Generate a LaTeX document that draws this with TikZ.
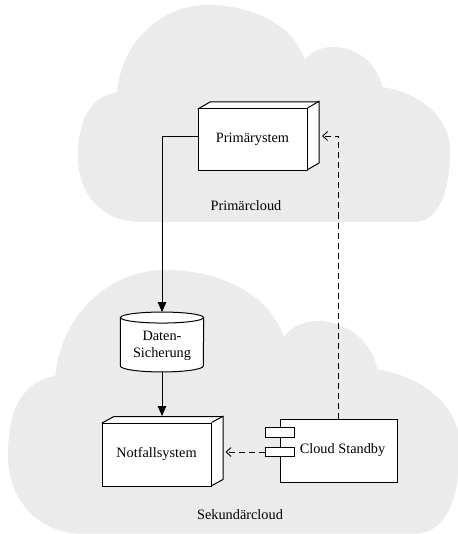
\documentclass[tikz,border=0pt]{standalone}
\usepackage{fontspec}
\setmainfont{Liberation Serif}
\usetikzlibrary{calc,arrows.meta}
\definecolor{cloudgray}{RGB}{235,235,235}
\newcommand{\cloudshape}{%
  (62,217) .. controls (25,217) and (0,190) .. (0,152)
  .. controls (0,115) and (12,92) .. (39,87)
  .. controls (44,35) and (85,0) .. (129,0)
  .. controls (175,0) and (215,20) .. (227,55)
  .. controls (235,45) and (245,42) .. (255,42)
  .. controls (280,42) and (300,60) .. (304,82)
  .. controls (345,88) and (372,115) .. (372,145)
  .. controls (372,185) and (362,217) .. (335,217)
  -- cycle}
\begin{document}
\begin{tikzpicture}[x=1pt,y=-1pt,
  font=\fontsize{14.3}{16.5}\selectfont,
  cloud/.style={fill=cloudgray,draw=none},
  frontbox/.style={draw,fill=white,line width=1pt,minimum width=109pt,minimum height=62pt,inner sep=0pt},
  depth/.style={draw,fill=white,line width=1pt,line join=round},
  comp/.style={draw,fill=white,line width=1pt,minimum width=117pt,minimum height=63pt,inner sep=0pt},
  port/.style={draw,fill=white,line width=1pt,minimum width=29pt,minimum height=9.5pt,inner sep=0pt},
  flow/.style={line width=0.9pt,-{Triangle[length=10pt,width=8.5pt]}},
  dep/.style={line width=0.9pt,dash pattern=on 6pt off 4pt,-{Straight Barb[length=5pt,width=9pt]}},
  lbl/.style={inner sep=0pt}]
\useasboundingbox (0,0) rectangle (457,534);
% clouds
\begin{scope}[shift={(78,5)}]
  \path[cloud] \cloudshape;
\end{scope}
\begin{scope}[shift={(8,270)},scale=1.215]
  \path[cloud] \cloudshape;
\end{scope}
\node[lbl] (lp) at (246,206) {Primärcloud};
\node[lbl] (ls) at (240,515) {Sekundärcloud};
% Primaerystem
\draw[depth] (198,109) -- ++(12,-7) -- ++(109,0) -- ++(0,61) -- ++(-12,7) -- cycle;
\node[frontbox] (P) at (252.5,139.5) {Primärystem};
\draw[line width=1pt] (P.north east) -- ++(12,-7);
\coordinate (Pw) at ($(P.west)+(0,-3.5)$);
\coordinate (Pbe) at ($(P.east)+(12,-3.5)$);
% Notfallsystem
\draw[depth] (102,423) -- ++(12,-6.5) -- ++(109,0) -- ++(0,63) -- ++(-12,6.5) -- cycle;
\node[frontbox,minimum height=63pt] (N) at (156.5,454.5) {Notfallsystem};
\draw[line width=1pt] (N.north east) -- ++(12,-6.5);
\coordinate (Ntop) at ($(N.north)+(6,-6.5)$);
\coordinate (Nbe) at ($(N.east)+(12,-3.25)$);
% Daten-Sicherung (cylinder)
\node[minimum width=83pt,minimum height=59.5pt,inner sep=0pt] (D) at (162,342) {};
\draw[line width=1pt,fill=white] ($(D.north west)+(0,5.5)$) -- ($(D.south west)+(0,-6)$)
   arc[start angle=180,end angle=0,x radius=41.5,y radius=6] -- ($(D.north east)+(0,5.5)$) -- cycle;
\draw[line width=1pt,fill=white] ($(D.north)+(0,5.5)$) ellipse[x radius=41.5,y radius=5.5];
\node[lbl,align=center] (Dt) at ($(D.center)+(0,4)$) {Daten-\\Sicherung};
% Cloud Standby component
\node[comp,label={[xshift=4pt]center:Cloud Standby}] (C) at (338.5,450.5) {};
\node[port] (c1) at ($(C.west)+(0,-18)$) {};
\node[port] (c2) at ($(C.west)+(0,1.5)$) {};
% connectors
\draw[flow] (Pw) -| (D.north);
\draw[flow] (D.south) -- (D.south |- Ntop);
\draw[dep,shorten >=2.5pt] (C.north) |- (Pbe);
\draw[dep,shorten >=2pt] (c2.west) -- (c2.west -| Nbe);
\end{tikzpicture}
\end{document}
